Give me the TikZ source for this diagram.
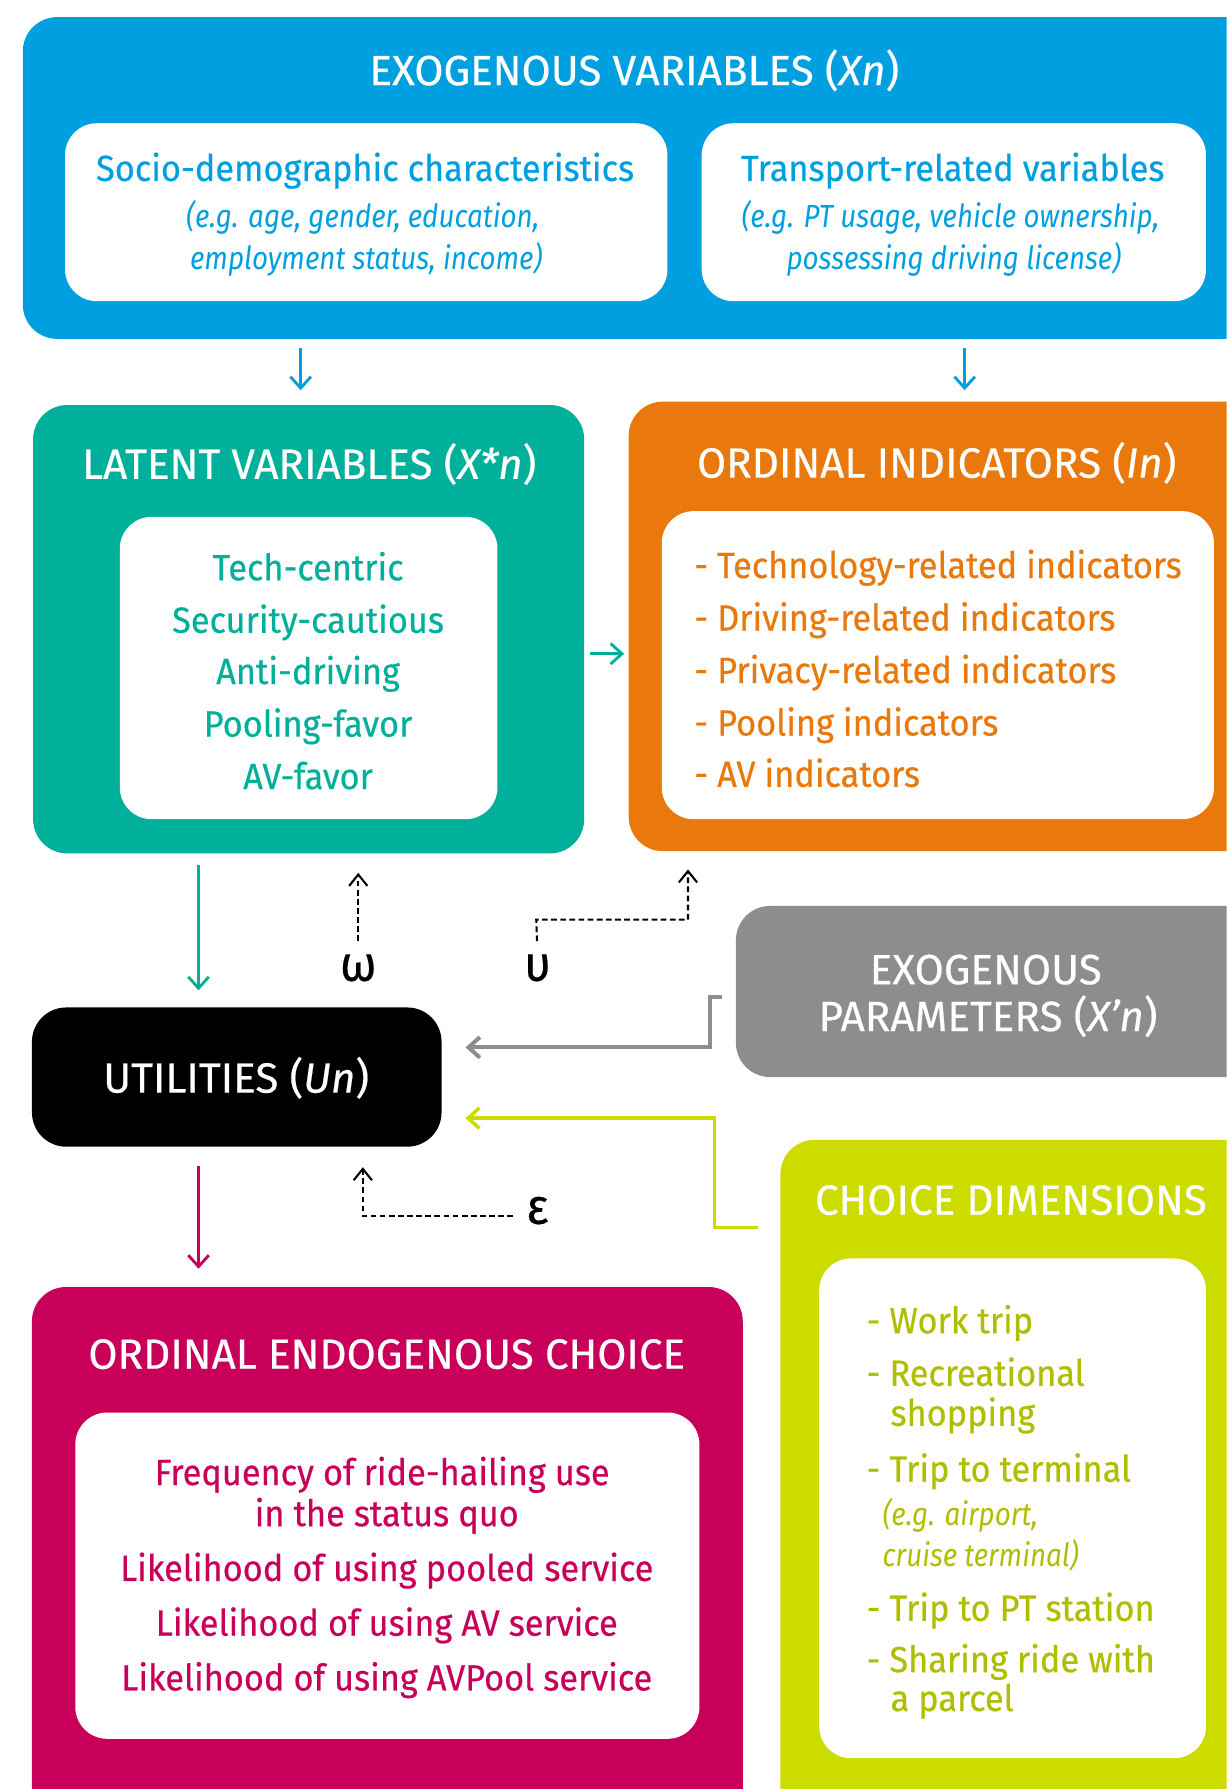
\documentclass[tikz,border=0pt]{standalone}
\usepackage{fontspec}
\setmainfont[FakeStretch=0.94, FakeBold=0.4]{Fira Sans}
\newfontfamily\titlefont[FakeBold=0.4]{Fira Sans}
\newfontfamily\notefont[FakeStretch=0.87]{Fira Sans}
\usetikzlibrary{arrows.meta}

\definecolor{exoblue}{RGB}{0,160,224}
\definecolor{latteal}{RGB}{0,176,154}
\definecolor{ordorange}{RGB}{233,121,12}
\definecolor{pargray}{RGB}{140,141,143}
\definecolor{endmagenta}{RGB}{200,0,90}
\definecolor{dimlime}{RGB}{204,220,0}
\definecolor{dimolive}{RGB}{176,190,0}

\tikzset{
  panel/.style={rounded corners=30pt, inner sep=0pt, outer sep=0pt},
  card/.style={panel, fill=white, rounded corners=28pt},
  heading/.style={text=white, font=\titlefont\fontsize{37}{40}\selectfont, anchor=mid},
  item/.style={font=\fontsize{32}{36}\selectfont, anchor=mid},
  note/.style={font=\notefont\itshape\fontsize{28}{32}\selectfont, anchor=mid},
  greek/.style={font=\fontsize{44}{48}\selectfont, anchor=mid},
  flow/.style={line width=2.5pt, -{Straight Barb[length=10pt,width=18pt]}},
  noise/.style={line width=1.8pt, dash pattern=on 5pt off 3pt, -{Straight Barb[length=10pt,width=16pt]}}
}

\begin{document}
\begin{tikzpicture}[x=1pt,y=-1pt]
\useasboundingbox (0,0) rectangle (1075,1568);
\clip (0,0) rectangle (1075,1568);

% exogenous variables
\node[panel, fill=exoblue, minimum width=1100pt, minimum height=282pt] (exo) at (570,156) {};
\node[heading] (exot) at (556,72) {EXOGENOUS VARIABLES (\textit{Xn})};
\node[card, minimum width=528pt, minimum height=156pt] (sd) at (321,186) {};
\node[card, minimum width=442pt, minimum height=156pt] (tr) at (836,186) {};
\node[item, text=exoblue] (sd1) at (320,156) {Socio-demographic characteristics};
\node[note, text=exoblue] (sd2) at (318,197) {(e.g. age, gender, education,};
\node[note, text=exoblue] (sd3) at (321,234) {employment status, income)};
\node[item, text=exoblue] (tr1) at (835,156) {Transport-related variables};
\node[note, text=exoblue] (tr2) at (833,197) {(e.g. PT usage, vehicle ownership,};
\node[note, text=exoblue] (tr3) at (836,234) {possessing driving license)};

% latent variables
\node[panel, fill=latteal, minimum width=483pt, minimum height=393pt] (lat) at (270.5,551.5) {};
\node[heading] (latt) at (271,417) {LATENT VARIABLES (\textit{X*n})};
\node[card, minimum width=331pt, minimum height=265pt] (latc) at (270.5,585.5) {};
\node[item, text=latteal] (lat1) at (270,506) {Tech-centric};
\node[item, text=latteal] (lat2) at (270,552) {Security-cautious};
\node[item, text=latteal] (lat3) at (270,597) {Anti-driving};
\node[item, text=latteal] (lat4) at (270,643) {Pooling-favor};
\node[item, text=latteal] (lat5) at (270,689) {AV-favor};

% ordinal indicators
\node[panel, fill=ordorange, minimum width=569pt, minimum height=394pt] (ord) at (835.5,549) {};
\node[heading] (ordt) at (821,416) {ORDINAL INDICATORS (\textit{In})};
\node[card, minimum width=484pt, minimum height=270pt] (ordc) at (822,583) {};
\node[item, text=ordorange, anchor=mid west] (ord1) at (605,504) {- Technology-related indicators};
\node[item, text=ordorange, anchor=mid west] (ord2) at (605,550) {- Driving-related indicators};
\node[item, text=ordorange, anchor=mid west] (ord3) at (605,596) {- Privacy-related indicators};
\node[item, text=ordorange, anchor=mid west] (ord4) at (605,642) {- Pooling indicators};
\node[item, text=ordorange, anchor=mid west] (ord5) at (605,687) {- AV indicators};

% exogenous parameters
\node[panel, fill=pargray, minimum width=475pt, minimum height=150pt] (par) at (882.5,869) {};
\node[heading] (part1) at (864,860) {EXOGENOUS};
\node[heading] (part2) at (866,901) {PARAMETERS (\textit{X’n})};

% utilities
\node[panel, fill=black, minimum width=359pt, minimum height=122pt] (util) at (207.5,944) {};
\node[heading] (utilt) at (207,955) {UTILITIES (\textit{Un})};

% ordinal endogenous choice
\node[panel, fill=endmagenta, minimum width=623pt, minimum height=492pt] (endo) at (339.5,1374) {};
\node[heading] (endot) at (339,1197) {ORDINAL ENDOGENOUS CHOICE};
\node[card, minimum width=547pt, minimum height=286pt] (endoc) at (339.5,1381) {};
\node[item, text=endmagenta] (endo1) at (335,1299) {Frequency of ride-hailing use};
\node[item, text=endmagenta] (endo2) at (339,1335) {in the status quo};
\node[item, text=endmagenta] (endo3) at (339,1383) {Likelihood of using pooled service};
\node[item, text=endmagenta] (endo4) at (339,1431) {Likelihood of using AV service};
\node[item, text=endmagenta] (endo5) at (339,1479) {Likelihood of using AVPool service};

% choice dimensions
\node[panel, fill=dimlime, minimum width=436pt, minimum height=621pt] (dim) at (902,1309.5) {};
\node[heading] (dimt) at (886,1062) {CHOICE DIMENSIONS};
\node[card, minimum width=339pt, minimum height=438pt] (dimc) at (887.5,1322) {};
\node[item, text=dimolive, anchor=mid west] (dim1) at (756,1166) {- Work trip};
\node[item, text=dimolive, anchor=mid west] (dim2) at (756,1212) {- Recreational};
\node[item, text=dimolive, anchor=mid west] (dim3) at (777,1247) {shopping};
\node[item, text=dimolive, anchor=mid west] (dim4) at (756,1296) {- Trip to terminal};
\node[note, text=dimolive, anchor=mid west] (dim5) at (770,1334) {(e.g. airport,};
\node[note, text=dimolive, anchor=mid west] (dim6) at (770,1370) {cruise terminal)};
\node[item, text=dimolive, anchor=mid west] (dim7) at (756,1418) {- Trip to PT station};
\node[item, text=dimolive, anchor=mid west] (dim8) at (756,1463) {- Sharing ride with};
\node[item, text=dimolive, anchor=mid west] (dim9) at (777,1497) {a parcel};

% error terms
\node[greek] (omega) at (314,857) {ω};
\node[greek] (upsilon) at (471,857) {υ};
\node[greek] (eps) at (471,1070) {ε};
\coordinate (upsbend) at (470,806);
\coordinate (epsbend) at (318,1066);

% arrows
\draw[flow, exoblue, shorten <=8pt, shorten >=13pt] ([xshift=-7pt]exo.south -| lat.north) -- ([xshift=-7pt]lat.north); % exo to latent
\draw[flow, exoblue, shorten <=8pt, shorten >=10pt] ([xshift=10pt]exo.south -| ord.north) -- ([xshift=10pt]ord.north); % exo to indicators
\draw[flow, latteal, shorten <=5pt, shorten >=4pt] ([yshift=-21.5pt]lat.east) -- ([yshift=-21.5pt]lat.east -| ord.west); % latent to indicators
\draw[flow, latteal, shorten <=10pt, shorten >=15pt] ([xshift=-33.5pt]util.north |- lat.south) -- ([xshift=-33.5pt]util.north); % latent to utilities
\draw[flow, endmagenta, shorten <=17pt, shorten >=16pt] ([xshift=-33.5pt]util.south) -- ([xshift=-33.5pt]util.south |- endo.north); % utilities to choice
\draw[flow, pargray, line width=3.5pt] ([xshift=-12pt,yshift=-5pt]par.west) -- ++(-11,0) |- ([xshift=21pt,yshift=26pt]util.east); % parameters to utilities
\draw[flow, dimlime, line width=3pt] ([xshift=-20pt,yshift=-77pt]dim.north west) -- ++(-38,0) |- ([xshift=21pt,yshift=-36pt]util.east); % dimensions to utilities
\draw[noise, shorten <=8pt, shorten >=17pt] (omega.north) -- (omega.north |- lat.south); % omega
\draw[noise, shorten <=8pt, shorten >=16pt] (upsilon.north) -- (upsbend) -| (ord.south -| 603,0); % upsilon
\draw[noise, shorten >=18pt] ([xshift=-8pt]eps.west |- epsbend) -- (epsbend) -- (epsbend |- util.south); % epsilon

\end{tikzpicture}
\end{document}
